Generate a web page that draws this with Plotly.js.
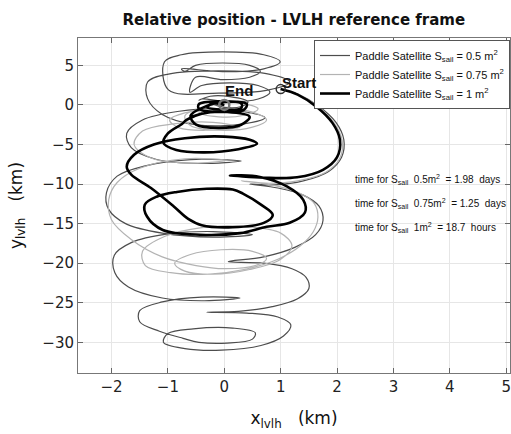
<!DOCTYPE html>
<html>
<head>
<meta charset="utf-8">
<script src="https://cdn.plot.ly/plotly-3.0.1.min.js"></script>
<style>
  html, body { margin: 0; padding: 0; background: #fff; }
  #chart { width: 511px; height: 434px; }
</style>
</head>
<body>
<div id="chart"></div>
<script>
// Relative trajectories of the paddle satellite in the LVLH frame (km)

// Sail area 0.5 m^2
const x05 = [
  1.00, 1.32, 1.68, 1.98, 2.12, 2.08, 1.85, 1.40, 0.90, 0.45,
  0.95, 1.40, 1.68, 1.75, 1.62, 1.25, 0.70, 0.07,
  0.70, 1.20, 1.45, 1.50, 1.30, 0.85, 0.25, -0.31,
  0.40, 0.95, 1.18, 1.05, 0.65, -0.05, -0.70, -1.08, -1.00, -0.55, 0.15, 0.55, 0.50, 0.05, -0.45, -0.73,
  -1.15, -1.50, -1.50, -1.10, -0.40, 0.28,
  -0.35, -1.10, -1.70, -1.94, -1.95, -1.65, -1.00, -0.20, 0.50,
  -0.20, -1.10, -1.75, -2.05, -2.09, -1.90, -1.40, -0.60, 0.30,
  -0.45, -1.20, -1.65, -1.73, -1.45, -0.80, -0.05, 0.72,
  0.35, -0.50, -1.10, -1.36,
  -1.36, -0.99, -0.10, 0.79, 1.16, 0.79, -0.10, -0.99,
  -1.06, -0.76, -0.03, 0.70, 0.99, 0.70, -0.03, -0.76,
  -0.70, -0.51, -0.03, 0.45, 0.64, 0.45, -0.03, -0.51,
  -0.61, -0.40, 0.10, 0.60, 0.81, 0.60, 0.10, -0.40,
  -0.45, -0.25, 0.10, 0.42, 0.30, 0.00, -0.20, 0.00
];
const y05 = [
  2.00, 1.30, -0.20, -2.20, -4.40, -6.60, -8.40, -9.60, -10.10, -10.00,
  -10.50, -11.40, -12.80, -14.60, -16.40, -18.00, -19.20, -19.80,
  -20.00, -20.70, -21.80, -23.20, -24.50, -25.50, -26.10, -26.20,
  -26.30, -26.80, -27.80, -29.20, -30.40, -31.00, -30.80, -30.00, -28.90, -28.30, -28.20, -28.80, -29.60, -30.10, -30.00, -29.50,
  -28.60, -27.40, -26.00, -24.90, -24.30, -24.40,
  -24.75, -24.40, -23.00, -21.20, -19.00, -17.40, -16.30, -16.00, -16.40,
  -16.70, -16.20, -15.00, -13.20, -11.10, -9.00, -7.70, -6.90, -7.10,
  -7.40, -6.90, -5.40, -3.60, -1.90, -0.80, -0.50, -1.60,
  -2.40, -2.50, -1.20, 0.80,
  2.90, 3.90, 4.30, 3.90, 2.90, 1.90, 1.50, 1.90,
  5.45, 6.34, 6.70, 6.34, 5.45, 4.56, 4.20, 4.56,
  4.25, 5.00, 5.30, 5.00, 4.25, 3.50, 3.20, 3.50,
  1.60, 2.45, 2.80, 2.45, 1.60, 0.75, 0.40, 0.75,
  0.60, 1.10, 1.05, 0.40, -0.20, -0.30, 0.10, 0.00
];

// Sail area 0.75 m^2
const x075 = [
  1.00, 1.32, 1.66, 1.95, 2.09, 2.05, 1.80, 1.30, 0.80, 0.30,
  0.90, 1.35, 1.60, 1.66, 1.58, 1.35, 0.95, 0.35, -0.30,
  -0.95, -1.40, -1.45, -1.05, -0.40, 0.40, 1.00, 1.20, 1.00, 0.45, -0.20,
  -0.70, -0.88, -0.60, -0.05, 0.50, 0.75, 0.55, 0.00, -0.50,
  -1.10, -1.65, -2.00, -2.05, -1.90, -1.50, -0.70, 0.05,
  -0.60, -1.30, -1.60, -1.45, -0.90, -0.20, 0.28,
  -0.30, -0.80, -0.97, -0.70, -0.10, 0.50, 0.75, 0.50, -0.10,
  -0.60, -0.70, -0.30, 0.30, 0.60, 0.35, -0.10, -0.45, -0.30, 0.00
];
const y075 = [
  2.00, 1.30, -0.20, -2.30, -4.50, -6.70, -8.50, -9.60, -9.90, -9.60,
  -10.20, -11.20, -12.50, -14.20, -16.00, -17.80, -19.50, -20.80, -21.40,
  -21.20, -20.30, -18.50, -16.60, -15.50, -15.40, -16.20, -17.80, -19.50, -20.80, -21.40,
  -21.00, -20.00, -18.90, -18.30, -18.50, -19.40, -20.30, -20.70, -20.30,
  -19.20, -17.00, -14.50, -12.00, -9.80, -8.00, -6.80, -7.00,
  -7.35, -6.70, -5.00, -3.30, -2.40, -2.20, -2.80,
  -3.20, -2.90, -1.90, -1.00, -0.60, -0.90, -1.90, -2.80, -3.20,
  -2.60, -1.40, -0.20, 0.20, -0.50, -1.30, -1.50, -0.90, -0.10, 0.00
];

// Sail area 1 m^2
const x1 = [
  1.00, 1.30, 1.64, 1.92, 2.05, 2.00, 1.75, 1.29, 0.70, 0.10,
  0.63, 1.11, 1.40, 1.43, 1.16, 0.75, 0.28, -0.43, -1.09, -1.37, -1.41, -1.20, -0.84, -0.31, 0.15, 0.33,
  0.65, 0.86, 0.70, 0.15, -0.40, -0.64,
  -0.90, -1.30, -1.65, -1.73, -1.60, -1.25, -0.70, 0.00, 0.45, 0.58,
  0.25, -0.35, -0.85, -1.08, -1.00, -0.75,
  -0.67, -0.40, 0.05, 0.45, 0.30, -0.10, -0.50, -0.60, -0.40,
  0.00, 0.40, 0.35, 0.00, -0.45, -0.45, -0.10, 0.30, 0.30, 0.00, -0.30, -0.20, 0.00
];
const y1 = [
  2.00, 1.30, -0.25, -2.30, -4.40, -6.60, -8.20, -9.15, -9.20, -8.90,
  -9.10, -10.30, -12.00, -13.60, -14.90, -15.40, -16.20, -16.40, -15.80, -14.10, -12.60, -11.60, -11.00, -10.60, -10.70, -11.20,
  -12.60, -13.90, -14.90, -15.45, -15.20, -14.40,
  -12.80, -10.50, -8.80, -7.80, -6.30, -5.00, -4.20, -4.00, -4.40, -4.90,
  -5.60, -6.00, -5.70, -4.80, -3.60, -2.40,
  -1.90, -1.10, -0.90, -1.50, -2.50, -2.90, -2.50, -1.40, -0.40,
  0.40, 0.10, -0.60, -0.90, -0.50, 0.10, 0.45, 0.20, -0.40, -0.60, -0.30, 0.20, 0.00
];

// Labelled points
const startPt = [1.0, 2.0];
const endPt = [0.0, 0.0];

const seriesNames = [
  'Paddle Satellite S<sub>sail</sub> = 0.5 m<sup>2</sup>',
  'Paddle Satellite S<sub>sail</sub> = 0.75 m<sup>2</sup>',
  'Paddle Satellite S<sub>sail</sub> = 1 m<sup>2</sup>'
];
const timeLabels = [
  'time for S<sub>sail</sub>  0.5m<sup>2</sup>  = 1.98  days',
  'time for S<sub>sail</sub>  0.75m<sup>2</sup>  = 1.25  days',
  'time for S<sub>sail</sub>  1m<sup>2</sup>  = 18.7  hours'
];
const xTicks = [-2, -1, 0, 1, 2, 3, 4, 5];
const yTicks = [5, 0, -5, -10, -15, -20, -25, -30];

const SANS = 'Liberation Sans, Arial, Helvetica, sans-serif';
const WIDE = 'DejaVu Sans, Verdana, sans-serif';

const traces = [
  { x: x05, y: y05, name: seriesNames[0], mode: 'lines',
    line: { color: '#4d4d4d', width: 1.2, shape: 'spline', smoothing: 1 } },
  { x: x075, y: y075, name: seriesNames[1], mode: 'lines',
    line: { color: '#b3b3b3', width: 1.2, shape: 'spline', smoothing: 1 } },
  { x: x1, y: y1, name: seriesNames[2], mode: 'lines',
    line: { color: '#000000', width: 2.6, shape: 'spline', smoothing: 1 } },
  { x: [startPt[0]], y: [startPt[1]], mode: 'markers', showlegend: false,
    marker: { symbol: 'circle-open', size: 9, color: '#333', line: { width: 1.5, color: '#333' } } },
  { x: [endPt[0]], y: [endPt[1]], mode: 'markers', showlegend: false,
    marker: { symbol: 'circle-open', size: 10, color: '#777', line: { width: 2.5, color: '#777' } } }
];

const axisCommon = {
  ticks: 'inside', ticklen: 5, tickcolor: '#666', mirror: 'ticks',
  showline: true, linecolor: '#777', linewidth: 1,
  showgrid: true, gridcolor: '#e6e6e6', gridwidth: 1,
  zeroline: false, tickfont: { family: WIDE, size: 15, color: '#222' },
  ticklabeloverflow: 'allow', automargin: false
};

const layout = {
  width: 511, height: 434,
  margin: { l: 78, r: 1, t: 38, b: 61 },
  paper_bgcolor: '#fff', plot_bgcolor: '#fff',
  font: { family: SANS, color: '#111' },
  title: {
    text: '<b>Relative position - LVLH reference frame</b>',
    font: { family: WIDE, size: 15, color: '#111' },
    x: 0.575, xanchor: 'center', y: 0.955, yanchor: 'middle', yref: 'container'
  },
  xaxis: Object.assign({}, axisCommon, {
    range: [-2.594, 5.066], tickvals: xTicks,
    title: { text: 'x<sub>lvlh</sub>   (km)', font: { family: WIDE, size: 17, color: '#111' }, standoff: 17 }
  }),
  yaxis: Object.assign({}, axisCommon, {
    range: [-33.88, 8.46], tickvals: yTicks,
    title: { text: 'y<sub>lvlh</sub>   (km)', font: { family: WIDE, size: 17, color: '#111' }, standoff: 15 }
  }),
  showlegend: true,
  legend: {
    x: 1, xanchor: 'right', y: 0.994, yanchor: 'top',
    bgcolor: '#fff', bordercolor: '#555', borderwidth: 1,
    font: { family: SANS, size: 11, color: '#111' },
    tracegroupgap: 0
  },
  annotations: [
    { x: 1.33, y: 2.8, xref: 'x', yref: 'y', text: '<b>Start</b>', showarrow: false,
      font: { family: SANS, size: 15, color: '#111' } },
    { x: 0.26, y: 1.8, xref: 'x', yref: 'y', text: '<b>End</b>', showarrow: false,
      font: { family: SANS, size: 15, color: '#111' } },
    { x: 2.28, y: -9.4, xref: 'x', yref: 'y', xanchor: 'left', text: timeLabels[0], showarrow: false,
      font: { family: SANS, size: 10, color: '#111' } },
    { x: 2.28, y: -12.5, xref: 'x', yref: 'y', xanchor: 'left', text: timeLabels[1], showarrow: false,
      font: { family: SANS, size: 10, color: '#111' } },
    { x: 2.28, y: -15.5, xref: 'x', yref: 'y', xanchor: 'left', text: timeLabels[2], showarrow: false,
      font: { family: SANS, size: 10, color: '#111' } }
  ]
};

Plotly.newPlot('chart', traces, layout, { staticPlot: true, displayModeBar: false });
</script>
</body>
</html>
